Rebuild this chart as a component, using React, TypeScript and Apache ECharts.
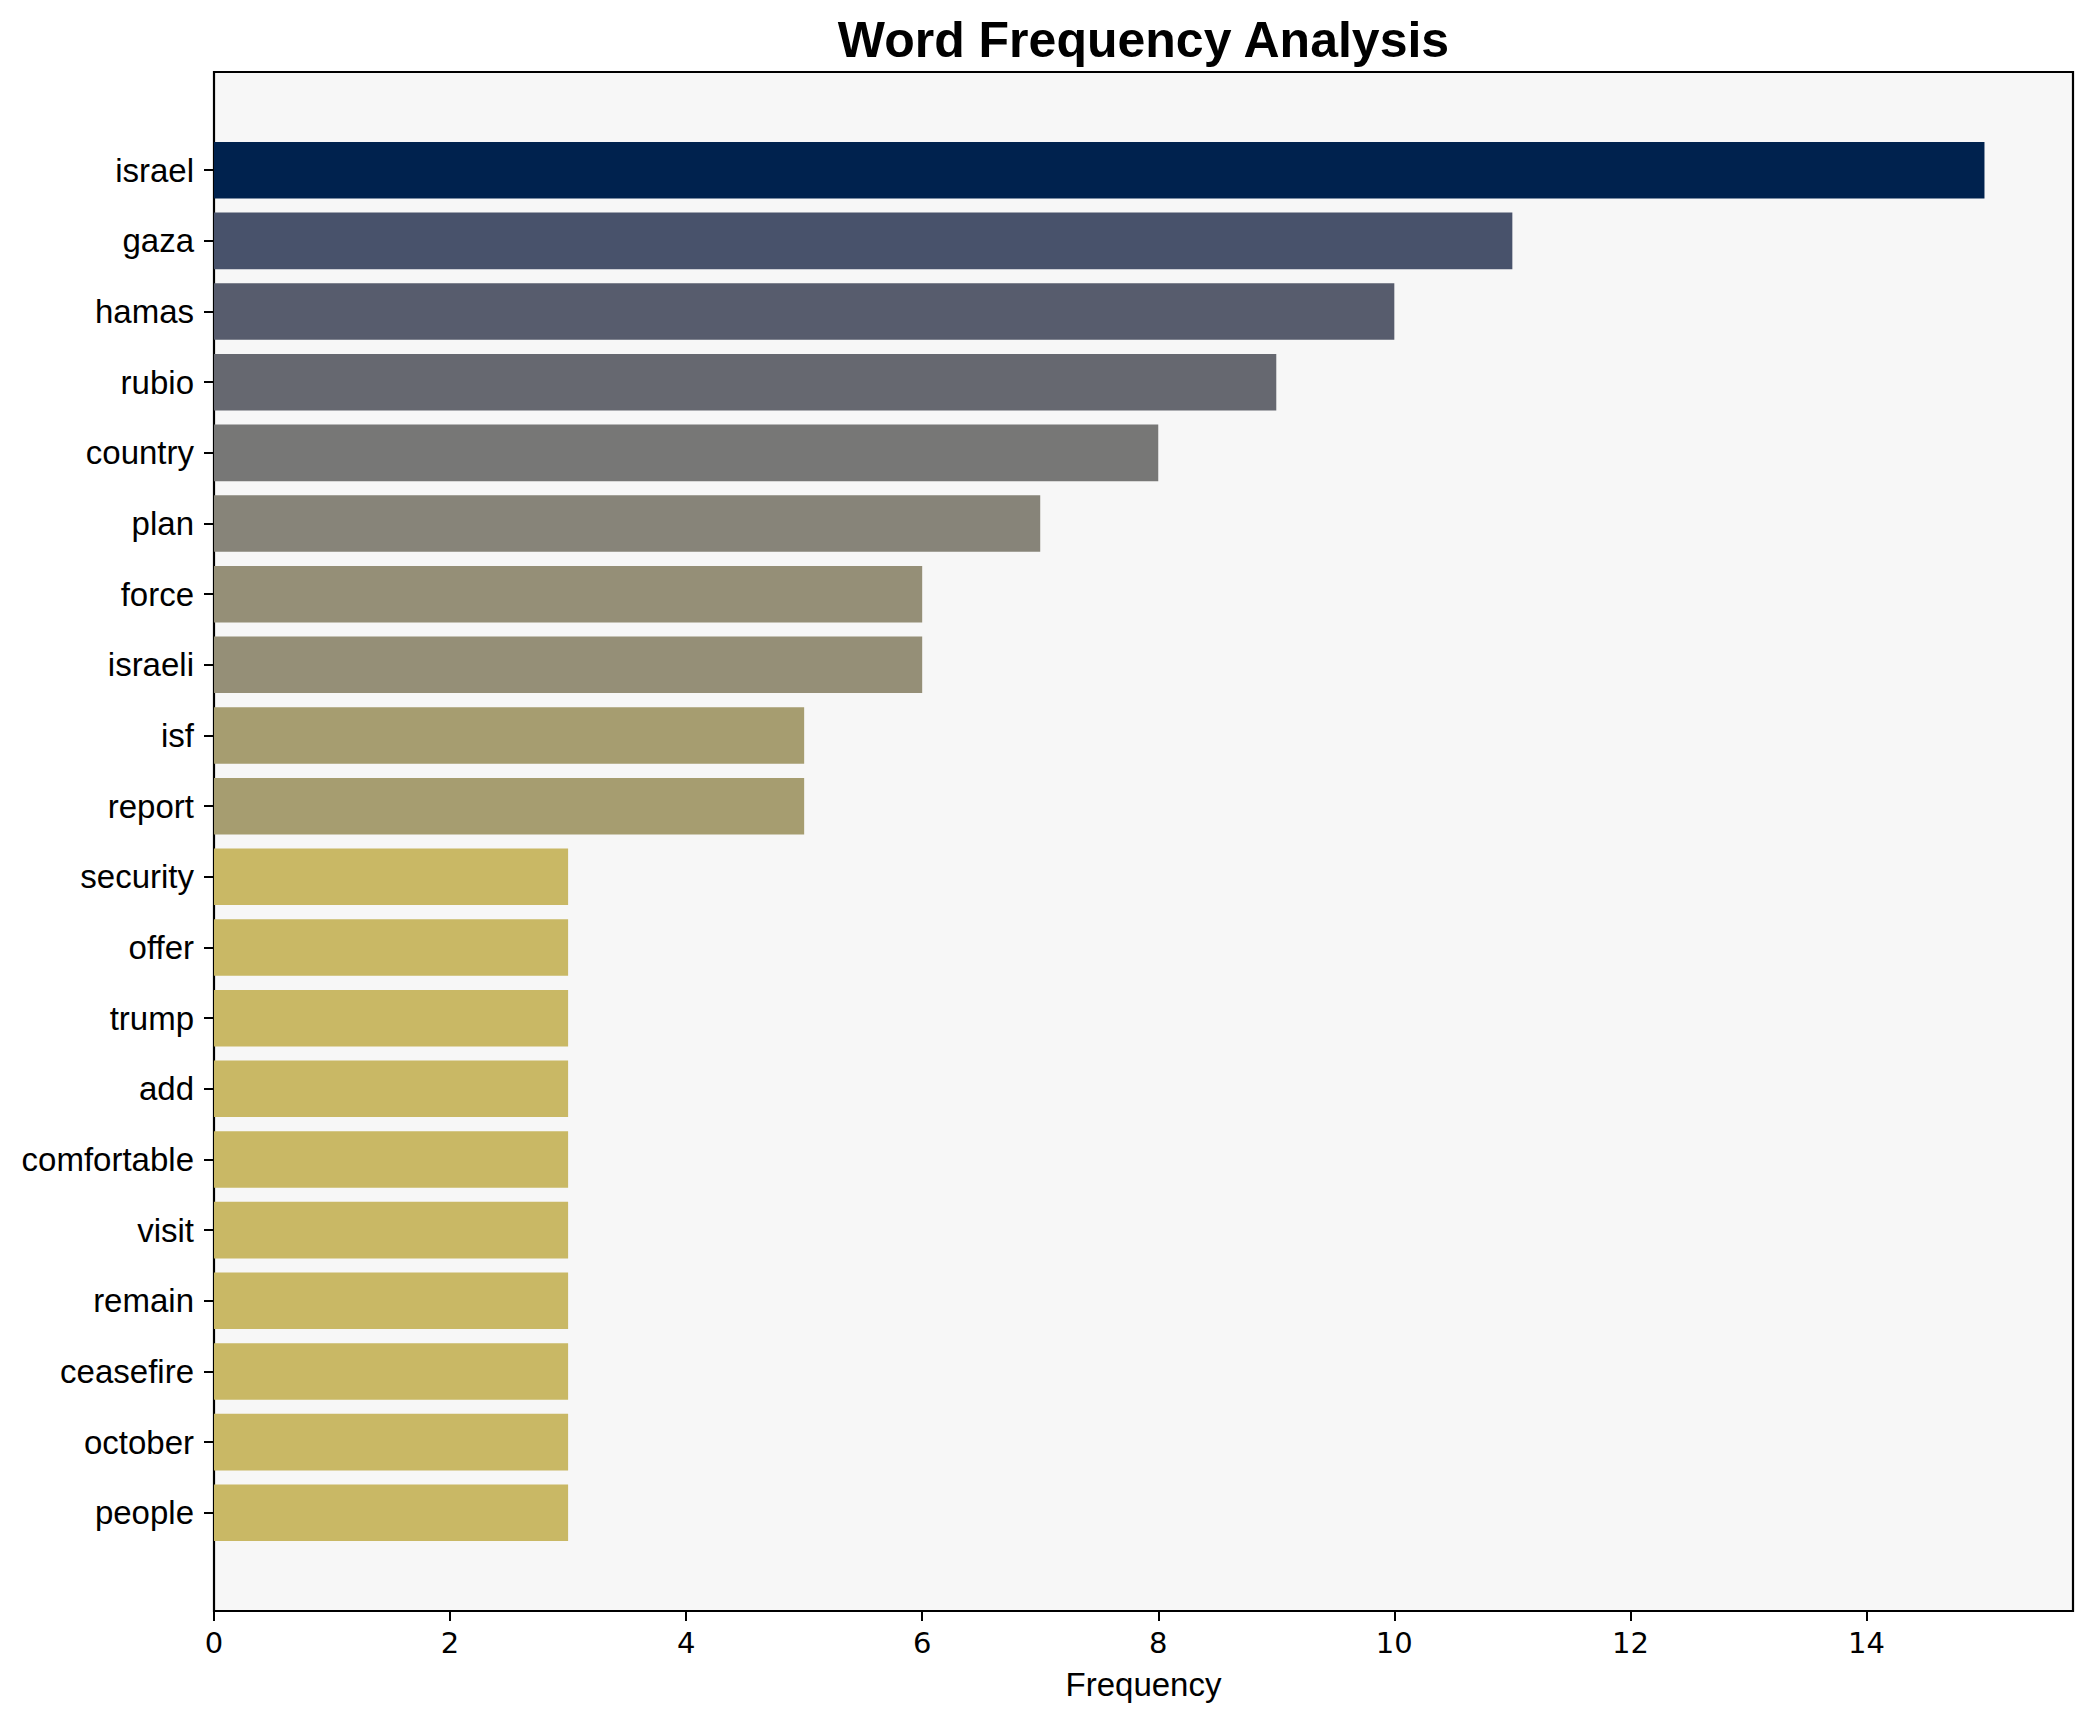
import React, { useEffect, useRef } from "react";
import * as echarts from "echarts";

const words = [
  "israel", "gaza", "hamas", "rubio", "country", "plan", "force", "israeli", "isf", "report",
  "security", "offer", "trump", "add", "comfortable", "visit", "remain", "ceasefire", "october", "people",
];
const counts = [15, 11, 10, 9, 8, 7, 6, 6, 5, 5, 3, 3, 3, 3, 3, 3, 3, 3, 3, 3];
const barColors = [
  "#00224e", "#48526b", "#575c6d", "#666870", "#777776", "#878479", "#958f77", "#958f77",
  "#a69d70", "#a69d70", "#c9b865", "#c9b865", "#c9b865", "#c9b865", "#c9b865", "#c9b865",
  "#c9b865", "#c9b865", "#c9b865", "#c9b865",
];
const xTicks = [0, 2, 4, 6, 8, 10, 12, 14];
const xMax = 15.75;

export default function App() {
  const ref = useRef<HTMLDivElement>(null);
  useEffect(() => {
    if (!ref.current) return;
    const chart = echarts.init(ref.current, null, { renderer: "svg" });
    const W = 2093, H = 1722;
    const axL = 214, axR = 2073, axT = 72, axB = 1611;
    const nCat = words.length;
    const unit = (axB - axT) / (nCat - 1 + 0.8 + 2 * 0.99);
    const pad = (0.99 + 0.4 - 0.5) * unit;
    chart.setOption({
      animation: false,
      backgroundColor: "#ffffff",
      graphic: [
        {
          type: "text",
          x: (axL + axR) / 2,
          y: 40,
          style: {
            text: "Word Frequency Analysis",
            fontFamily: "Liberation Sans, Arial, sans-serif",
            fontWeight: "bold",
            fontSize: 50,
            fill: "#000",
            textAlign: "center",
            textVerticalAlign: "middle",
          },
        },
      ],
      grid: [
        {
          left: axL, top: axT, right: W - axR, bottom: H - axB,
          show: true, backgroundColor: "#f7f7f7", borderColor: "#000", borderWidth: 2.2,
          containLabel: false,
        },
        {
          left: axL, top: axT + pad, right: W - axR, bottom: H - axB + pad,
          show: false, containLabel: false,
        },
      ],
      xAxis: [
        {
          gridIndex: 0, type: "value", min: 0, max: xMax,
          name: "Frequency", nameLocation: "middle", nameGap: 57,
          nameTextStyle: { fontFamily: "Liberation Sans, Arial, sans-serif", fontSize: 33, color: "#000" },
          axisLine: { show: false },
          axisTick: { show: true, length: 10, lineStyle: { color: "#000", width: 2 }, customValues: xTicks },
          axisLabel: {
            show: true, customValues: xTicks, margin: 17,
            fontFamily: "DejaVu Sans, sans-serif", fontSize: 29, color: "#000",
          },
          splitLine: { show: false },
        },
        {
          gridIndex: 1, type: "value", min: 0, max: xMax, show: false,
          splitLine: { show: false },
        },
      ],
      yAxis: [
        { gridIndex: 0, type: "value", min: 0, max: 1, show: false, splitLine: { show: false } },
        {
          gridIndex: 1, type: "category", inverse: true, data: words,
          axisLine: { show: false },
          axisTick: { show: true, alignWithLabel: true, length: 10, lineStyle: { color: "#000", width: 2 } },
          axisLabel: {
            margin: 20, fontFamily: "Liberation Sans, Arial, sans-serif", fontSize: 33, color: "#000",
          },
          splitLine: { show: false },
        },
      ],
      series: [
        {
          type: "bar",
          xAxisIndex: 1,
          yAxisIndex: 1,
          barCategoryGap: "20%",
          data: counts.map((v, i) => ({ value: v, itemStyle: { color: barColors[i] } })),
          z: 3,
        },
      ],
    });
    return () => chart.dispose();
  }, []);
  return (
    <div
      ref={ref}
      style={{ position: "fixed", left: 0, top: 0, width: 2093, height: 1722 }}
    />
  );
}
